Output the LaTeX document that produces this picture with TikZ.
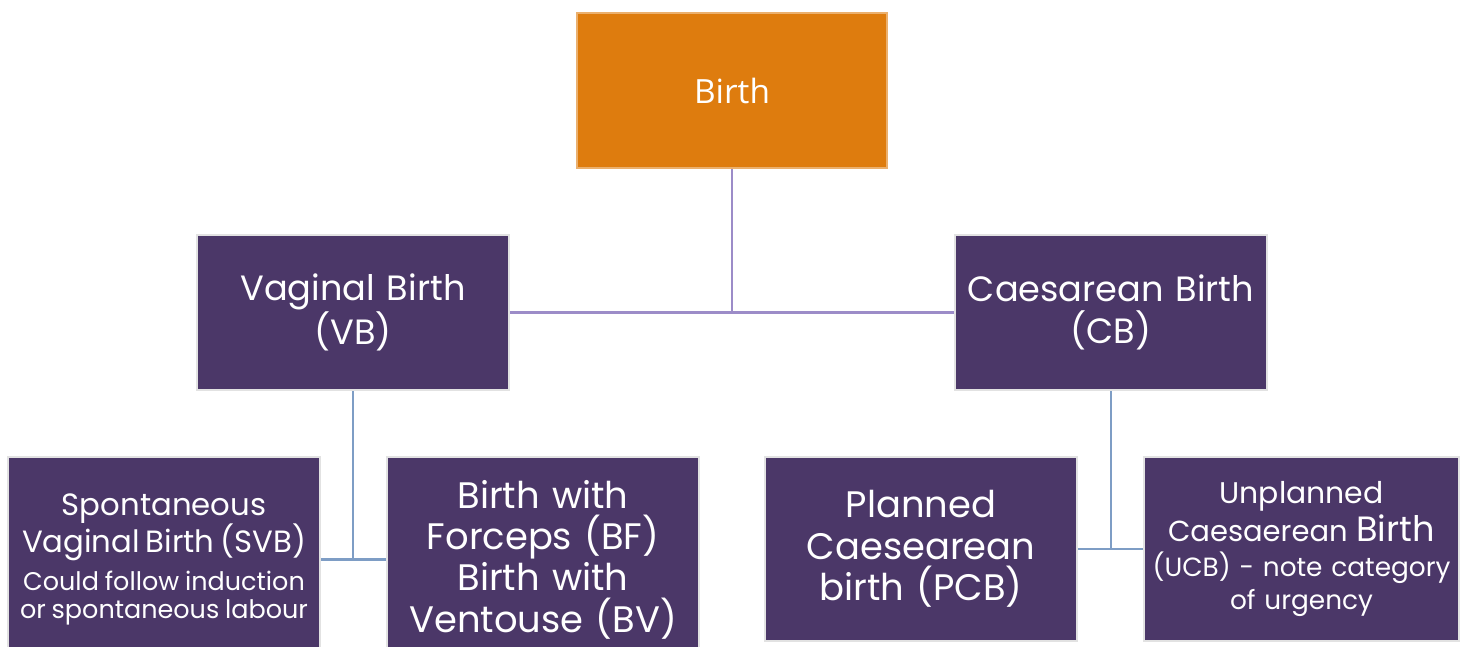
\documentclass[tikz,border=0pt]{standalone}
\usepackage{fontspec}
\setmainfont{Poppins}
\newfontfamily\birthfont{Open Sans}
\definecolor{birthorange}{HTML}{DE7C0E}
\definecolor{boxpurple}{HTML}{4B3768}
\definecolor{boxedge}{HTML}{E2E2E2}
\definecolor{toplink}{HTML}{9C8CC8}
\definecolor{sublink}{HTML}{7E9DC5}

\begin{document}
\begin{tikzpicture}[x=0.02cm,y=-0.02cm]
  \tikzset{pbox/.style = {draw=boxedge, line width=1.2pt, fill=boxpurple,
                          text=white, align=center, anchor=north west,
                          minimum width=6.24cm, minimum height=3.1cm,
                          text width=6.1cm, inner sep=1pt}}
  \tikzset{big/.style = {font=\fontsize{20}{24}\selectfont}}
  \tikzset{bigger/.style = {font=\fontsize{21}{23.5}\selectfont}}
  %\tikzset{small/.style = {font=\fontsize{14}{16.5}\selectfont}}
  \tikzset{link/.style = {line width=1.5pt}}
  \clip (0,0) rectangle (1467,646);

  \node[pbox, fill=birthorange, draw=birthorange!60, minimum width=6.2cm,
        font=\birthfont\fontsize{19}{24}\selectfont] (birth) at (576,12) {Birth};

  \node[pbox, big] (vb) at (196,234) {Vaginal Birth\\(VB)};
  \node[pbox, big] (cb) at (954,234) {Caesarean Birth\\(CB)};

  \node[pbox, minimum height=4.1cm] (svb) at (7,456)
    {{\fontsize{17.5}{19.5}\selectfont Spontaneous}\\[-1pt]
     {\fontsize{17.5}{19.5}\selectfont Vaginal Birth (SVB)}\\[5pt]
     {\fontsize{14.5}{18}\selectfont Could follow induction}\\[4pt]
     {\fontsize{14.5}{18}\selectfont or spontaneous labour}};
  \node[pbox, bigger, minimum height=4.1cm] (bf) at (386,456)
    {Birth with\\Forceps (BF)\\Birth with\\Ventouse (BV)};
  \node[pbox, bigger, minimum height=3.68cm] (pcb) at (764,456)
    {Planned\\Caesearean\\birth (PCB)};
  \node[pbox, minimum height=3.68cm, text width=6.3cm, inner sep=0pt,
        font=\fontsize{15}{17}\selectfont] (ucb) at (1143,456)
    {{\fontsize{17}{20}\selectfont Unplanned}\\[1pt]
     {\fontsize{16.5}{22}\selectfont Caesaerean {\fontsize{20}{22}\selectfont Birth}}\\[3pt]
     (UCB) - note category\\[2pt]
     of urgency};

  % first level
  \coordinate (topjoin) at (birth.south |- vb.east);
  \draw[link, toplink] (birth.south) -- (topjoin);
  \draw[link, toplink] (vb.east) -- (cb.west);

  % second level
  \draw[link, sublink] (vb.south) -- (vb.south |- svb.east);
  \draw[link, sublink] (svb.east) -- (bf.west);
  \draw[link, sublink] (cb.south) -- (cb.south |- pcb.east);
  \draw[link, sublink] (pcb.east) -- (ucb.west);
\end{tikzpicture}
\end{document}
